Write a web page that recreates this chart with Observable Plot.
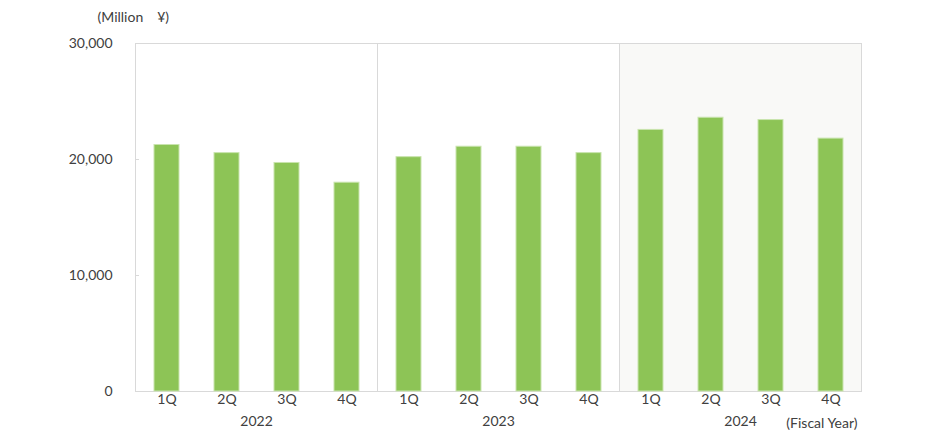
<!DOCTYPE html>
<html><head><meta charset="utf-8">
<script src="https://cdn.jsdelivr.net/npm/d3@7"></script>
<script src="https://cdn.jsdelivr.net/npm/@observablehq/plot@0.6"></script>
<style>body{margin:0;background:#fff;}</style>
</head><body><div id="chart"></div>
<script>
const years = ["2022", "2023", "2024"];
const quarters = ["1Q", "2Q", "3Q", "4Q"];
const values2022 = [21250, 20550, 19700, 18000];
const values2023 = [20200, 21100, 21100, 20550];
const values2024 = [22550, 23600, 23400, 21800];
const yTicks = [0, 10000, 20000, 30000];
const yLabel = "(Million\u3000¥)";
const xLabel = "(Fiscal Year)";
const highlightYear = "2024";

const series = [values2022, values2023, values2024];
const data = years.flatMap((yr, i) => quarters.map((q, j) => ({year: yr, quarter: q, value: series[i][j]})));
const highlight = [{year: highlightYear, lo: yTicks[0], hi: yTicks[yTicks.length - 1]}];
const yLabelData = [{year: years[0], text: yLabel}];
const xLabelData = [{year: years[years.length - 1], text: xLabel}];

const chart = Plot.plot({
  width: 930, height: 441,
  marginLeft: 135, marginRight: 69, marginTop: 43, marginBottom: 50,
  style: {fontFamily: "Lato", fontSize: "14px", color: "#404040", background: "#fff"},
  fx: {domain: years, padding: 0},
  x: {domain: quarters, paddingInner: 0.59, paddingOuter: 0.295},
  y: {domain: [yTicks[0], yTicks[yTicks.length - 1]]},
  marks: [
    Plot.barY(highlight, {fx: "year", y1: "lo", y2: "hi", fill: "#f9f9f7"}),
    Plot.frame({stroke: "#d9d9d9"}),
    Plot.barY(data, {fx: "year", x: "quarter", y: "value", fill: "#8dc456", stroke: "#c9e4ae", strokeWidth: 1}),
    Plot.axisY(yTicks, {anchor: "left", tickSize: -4, tickPadding: 27, tickFormat: d3.format(","), stroke: "#d9d9d9", fill: "#404040", label: null}),
    Plot.axisX({anchor: "bottom", tickSize: 0, tickPadding: 3, fill: "#404040", label: null}),
    Plot.axisFx({anchor: "bottom", tickSize: 0, tickPadding: 25, fill: "#404040", label: null}),
    Plot.text(yLabelData, {fx: "year", text: "text", frameAnchor: "top-left", textAnchor: "start", lineAnchor: "middle", dx: -38, dy: -26, fill: "#404040"}),
    Plot.text(xLabelData, {fx: "year", text: "text", frameAnchor: "bottom-right", textAnchor: "end", lineAnchor: "middle", dx: -4, dy: 32, fill: "#404040"})
  ]
});
document.getElementById("chart").append(chart);
</script>
</body></html>
